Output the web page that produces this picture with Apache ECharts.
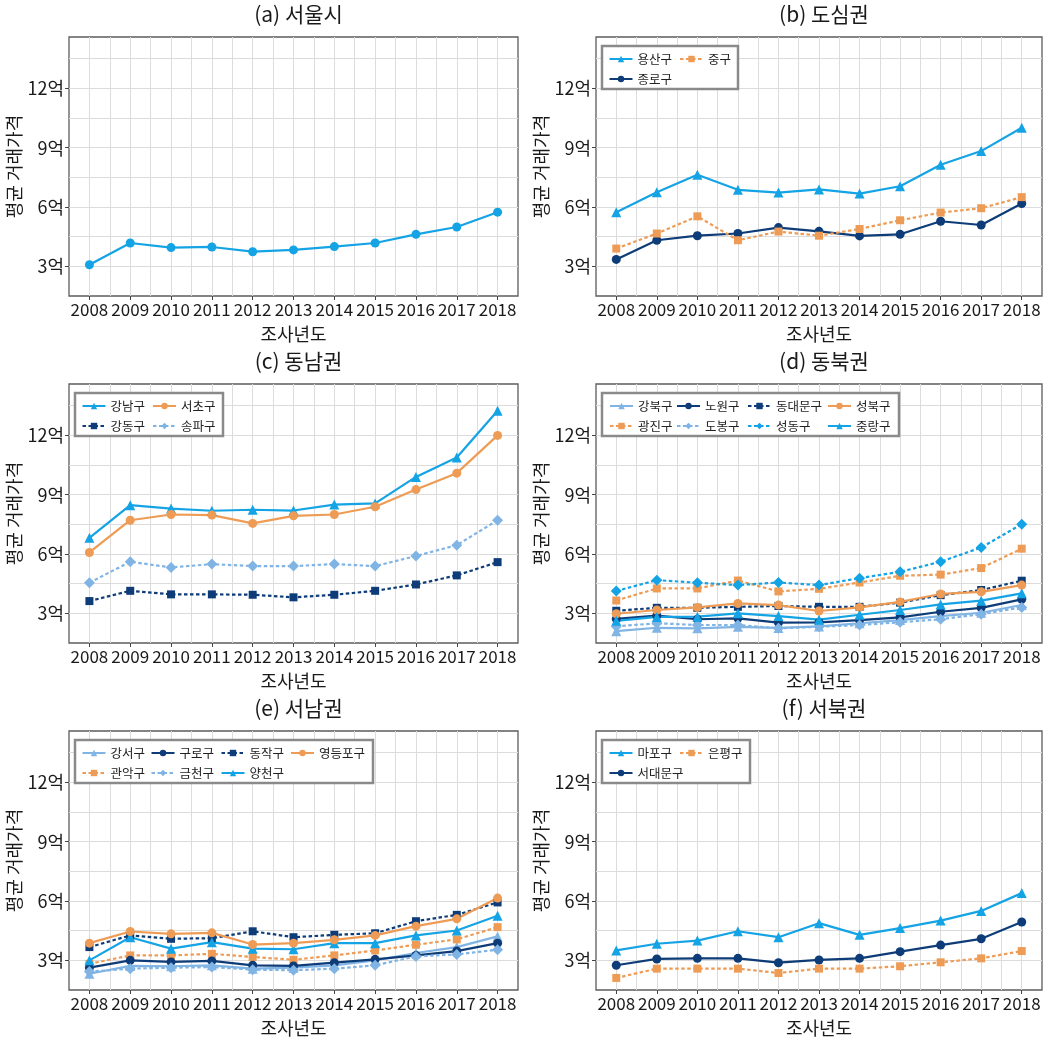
<!DOCTYPE html>
<html>
<head>
<meta charset="utf-8">
<script src="https://cdn.jsdelivr.net/npm/echarts@6.0.0/dist/echarts.min.js"></script>
<style>
  html, body { margin: 0; background: #fff; }
  #main { width: 1058px; height: 1041px; }
</style>
</head>
<body>
<div id="main"></div>
<script>
// 조사년도, y축 눈금 (억)
const years = [2008, 2009, 2010, 2011, 2012, 2013, 2014, 2015, 2016, 2017, 2018];
const yTicks = [3, 6, 9, 12];

// (a) 서울시
const seoul = [3.08, 4.18, 3.95, 3.98, 3.74, 3.83, 4.0, 4.18, 4.62, 4.99, 5.74];

// (b) 도심권
const yongsan = [5.74, 6.75, 7.63, 6.87, 6.73, 6.89, 6.68, 7.05, 8.14, 8.83, 10.01];
const jongno = [3.35, 4.32, 4.55, 4.66, 4.96, 4.77, 4.54, 4.62, 5.28, 5.09, 6.18];
const junggu = [3.9, 4.66, 5.53, 4.32, 4.76, 4.55, 4.89, 5.33, 5.72, 5.94, 6.5];

// (c) 동남권
const gangnam = [6.82, 8.47, 8.3, 8.19, 8.24, 8.2, 8.5, 8.56, 9.9, 10.88, 13.25];
const gangdong = [3.62, 4.14, 3.96, 3.96, 3.94, 3.81, 3.94, 4.14, 4.46, 4.92, 5.59];
const seocho = [6.08, 7.71, 8.0, 7.97, 7.55, 7.93, 8.0, 8.39, 9.26, 10.09, 12.0];
const songpa = [4.55, 5.61, 5.32, 5.49, 5.39, 5.39, 5.49, 5.39, 5.9, 6.45, 7.71];

// (d) 동북권
const gangbuk = [2.1, 2.27, 2.24, 2.32, 2.26, 2.34, 2.5, 2.66, 2.86, 3.03, 3.42];
const gwangjin = [3.65, 4.26, 4.26, 4.66, 4.11, 4.24, 4.56, 4.9, 4.96, 5.29, 6.27];
const nowon = [2.72, 2.88, 2.7, 2.75, 2.53, 2.54, 2.66, 2.8, 3.08, 3.28, 3.71];
const dobong = [2.34, 2.5, 2.41, 2.41, 2.24, 2.32, 2.41, 2.55, 2.7, 2.96, 3.3];
const dongdaemun = [3.13, 3.28, 3.28, 3.33, 3.37, 3.33, 3.33, 3.54, 3.92, 4.18, 4.65];
const seongdong = [4.13, 4.68, 4.55, 4.43, 4.56, 4.43, 4.78, 5.1, 5.61, 6.33, 7.51];
const seongbuk = [2.98, 3.17, 3.3, 3.5, 3.42, 3.12, 3.3, 3.58, 3.98, 4.09, 4.43];
const jungnang = [2.62, 2.82, 2.83, 3.0, 2.86, 2.68, 2.93, 3.17, 3.45, 3.64, 4.01];

// (e) 서남권
const gangseo = [2.32, 2.72, 2.7, 2.75, 2.58, 2.63, 2.75, 3.0, 3.37, 3.67, 4.21];
const gwanak = [2.82, 3.25, 3.25, 3.33, 3.17, 3.03, 3.25, 3.5, 3.79, 4.06, 4.68];
const guro = [2.63, 3.0, 2.92, 2.97, 2.75, 2.72, 2.88, 3.05, 3.25, 3.47, 3.87];
const geumcheon = [2.43, 2.58, 2.63, 2.66, 2.53, 2.5, 2.58, 2.75, 3.2, 3.3, 3.54];
const dongjak = [3.67, 4.26, 4.09, 4.12, 4.47, 4.17, 4.29, 4.37, 4.98, 5.3, 5.93];
const yangcheon = [3.0, 4.17, 3.59, 3.92, 3.59, 3.56, 3.87, 3.87, 4.26, 4.51, 5.26];
const yeongdeungpo = [3.87, 4.46, 4.34, 4.39, 3.8, 3.87, 4.04, 4.26, 4.73, 5.1, 6.15];

// (f) 서북권
const mapo = [3.5, 3.84, 4.0, 4.47, 4.17, 4.88, 4.29, 4.63, 5.01, 5.5, 6.4];
const seodaemun = [2.75, 3.07, 3.1, 3.1, 2.88, 3.02, 3.1, 3.44, 3.77, 4.09, 4.94];
const eunpyeong = [2.11, 2.58, 2.58, 2.58, 2.36, 2.58, 2.58, 2.7, 2.9, 3.1, 3.47];

const FONT = "'Noto Sans CJK KR', 'Noto Sans', sans-serif";
const BRIGHT = '#14a3e4', NAVY = '#0d3c78', ORANGE = '#ee9c55', LIGHT = '#80b4e4';

// 선 스타일: 색, 마커, 크기, 점선 여부
const STYLE = {
  bc: [BRIGHT, 'circle', 9, false],
  bt: [BRIGHT, 'triangle', 10, false],
  bd: [BRIGHT, 'diamond', 11, true],
  nc: [NAVY, 'circle', 9, false],
  ns: [NAVY, 'rect', 8, true],
  oc: [ORANGE, 'circle', 9, false],
  os: [ORANGE, 'rect', 8, true],
  lt: [LIGHT, 'triangle', 10, false],
  ld: [LIGHT, 'diamond', 11, true]
};

const panels = [
  { title: '(a) 서울시', lines: [['서울시', seoul, 'bc']] },
  { title: '(b) 도심권',
    lines: [['용산구', yongsan, 'bt'], ['종로구', jongno, 'nc'], ['중구', junggu, 'os']],
    legend: { cols: [['용산구', '종로구'], ['중구']], x: [6.5, 77], w: 136 } },
  { title: '(c) 동남권',
    lines: [['강남구', gangnam, 'bt'], ['강동구', gangdong, 'ns'], ['서초구', seocho, 'oc'], ['송파구', songpa, 'ld']],
    legend: { cols: [['강남구', '강동구'], ['서초구', '송파구']], x: [6.5, 77], w: 148 } },
  { title: '(d) 동북권',
    lines: [['강북구', gangbuk, 'lt'], ['광진구', gwangjin, 'os'], ['노원구', nowon, 'nc'], ['도봉구', dobong, 'ld'],
            ['동대문구', dongdaemun, 'ns'], ['성동구', seongdong, 'bd'], ['성북구', seongbuk, 'oc'], ['중랑구', jungnang, 'bt']],
    legend: { cols: [['강북구', '광진구'], ['노원구', '도봉구'], ['동대문구', '성동구'], ['성북구', '중랑구']], x: [7, 74, 145, 225], w: 297 } },
  { title: '(e) 서남권',
    lines: [['강서구', gangseo, 'lt'], ['관악구', gwanak, 'os'], ['구로구', guro, 'nc'], ['금천구', geumcheon, 'ld'],
            ['동작구', dongjak, 'ns'], ['양천구', yangcheon, 'bt'], ['영등포구', yeongdeungpo, 'oc']],
    legend: { cols: [['강서구', '관악구'], ['구로구', '금천구'], ['동작구', '양천구'], ['영등포구']], x: [6.5, 75.5, 145.5, 215], w: 298 } },
  { title: '(f) 서북권',
    lines: [['마포구', mapo, 'bt'], ['서대문구', seodaemun, 'nc'], ['은평구', eunpyeong, 'os']],
    legend: { cols: [['마포구', '서대문구'], ['은평구']], x: [6.5, 77], w: 148 } }
];

const colLeft = [69, 596], colWidth = [449, 446];
const rowTop = [37, 384, 731], plotH = 259;

const option = {
  animation: false,
  backgroundColor: '#fff',
  textStyle: { fontFamily: FONT },
  title: [], grid: [], xAxis: [], yAxis: [], series: [], legend: [],
  graphic: { elements: [] }
};

panels.forEach((p, i) => {
  const left = colLeft[i % 2], width = colWidth[i % 2], top = rowTop[Math.floor(i / 2)];
  option.title.push({
    text: p.title, left: left + width / 2, top: top - 38, textAlign: 'center',
    textStyle: { fontFamily: FONT, fontSize: 21, fontWeight: 'normal', color: '#1a1a1a' }
  });
  option.grid.push({
    left: left, top: top, width: width, height: plotH,
    show: true, borderColor: '#5c5c5c', borderWidth: 1.3, backgroundColor: 'rgba(0,0,0,0)'
  });
  const grid = { color: '#dcdcdc', width: 1 };
  // 격자용 축
  option.xAxis.push({
    type: 'value', gridIndex: i, min: 2007.5, max: 2018.5, interval: 0.5,
    axisLine: { show: false }, axisTick: { show: false }, axisLabel: { show: false },
    splitLine: { show: true, showMinLine: false, showMaxLine: false, lineStyle: grid }
  });
  // 눈금/라벨용 축
  option.xAxis.push({
    type: 'value', gridIndex: i, position: 'bottom', min: 2007.5, max: 2018.5,
    axisLine: { show: false }, splitLine: { show: false },
    axisTick: { show: true, customValues: years, length: 4, lineStyle: { color: '#444' } },
    axisLabel: { customValues: years, formatter: v => String(v), fontSize: 17, color: '#1a1a1a', margin: 5, fontFamily: FONT },
    name: '조사년도', nameLocation: 'middle', nameGap: 29,
    nameTextStyle: { fontSize: 18, color: '#1a1a1a', fontFamily: FONT }
  });
  option.yAxis.push({
    type: 'value', gridIndex: i, min: 1.5, max: 14.6, interval: 1.5,
    axisLine: { show: false }, axisTick: { show: false }, axisLabel: { show: false },
    splitLine: { show: true, showMinLine: false, showMaxLine: false, lineStyle: grid }
  });
  option.yAxis.push({
    type: 'value', gridIndex: i, position: 'left', min: 1.5, max: 14.6,
    axisLine: { show: false }, splitLine: { show: false },
    axisTick: { show: true, customValues: yTicks, length: 4, lineStyle: { color: '#444' } },
    axisLabel: { customValues: yTicks, formatter: '{value}억', fontSize: 18, color: '#1a1a1a', margin: 5, fontFamily: FONT },
    name: '평균 거래가격', nameLocation: 'middle', nameGap: 38,
    nameTextStyle: { fontSize: 18, color: '#1a1a1a', fontFamily: FONT }
  });

  p.lines.forEach(([name, values, key]) => {
    const [color, symbol, size, dotted] = STYLE[key];
    option.series.push({
      name: name, type: 'line', xAxisIndex: 2 * i, yAxisIndex: 2 * i,
      data: years.map((y, k) => [y, values[k]]),
      symbol: symbol, symbolSize: size, showAllSymbol: true,
      itemStyle: { color: color },
      lineStyle: { color: color, width: 2.2, type: dotted ? [3.5, 2.5] : 'solid' },
      emphasis: { disabled: true }
    });
  });

  if (p.legend) {
    const fx = left + 6, fy = top + 9;
    option.graphic.elements.push({
      type: 'rect', z: 10, silent: true,
      shape: { x: fx, y: fy, width: p.legend.w, height: 43 },
      style: { fill: '#fff', stroke: '#8a8a8a', lineWidth: 2.5 }
    });
    p.legend.cols.forEach((names, c) => {
      option.legend.push({
        orient: 'vertical', left: fx + p.legend.x[c], top: fy + 6, z: 12,
        data: names, padding: 0, itemGap: 6, itemWidth: 23, itemHeight: 8,
        selectedMode: false,
        textStyle: { fontSize: 12.5, color: '#222', lineHeight: 14, fontFamily: FONT }
      });
    });
  }
});

const chart = echarts.init(document.getElementById('main'));
chart.setOption(option);
</script>
</body>
</html>
